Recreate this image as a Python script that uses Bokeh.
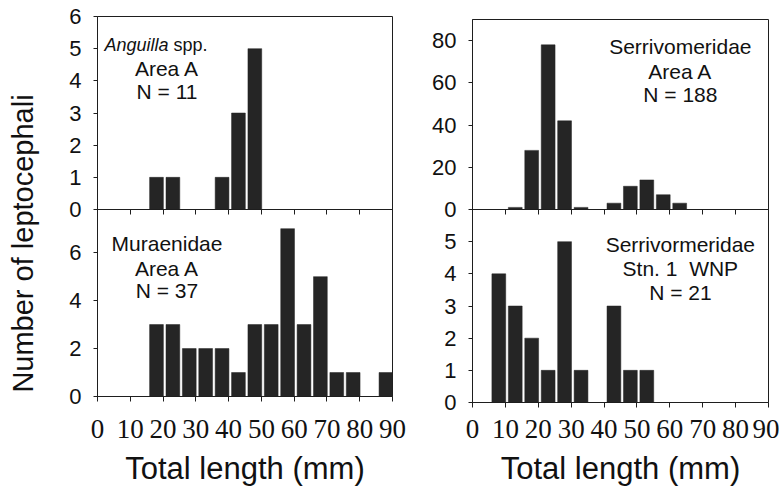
from bokeh.plotting import figure
from bokeh.layouts import row, column
from bokeh.models import Range1d, LinearAxis, FixedTicker, CustomJSTickFormatter
from bokeh.embed import file_html
from bokeh.resources import INLINE
from bokeh.core.properties import value
import math

# ---------------- data ----------------
x_ticks = [0, 10, 20, 30, 40, 50, 60, 70, 80, 90]

ang_len = [18, 23, 38, 43, 48]
ang_n = [1, 1, 1, 3, 5]

mur_len = [18, 23, 28, 33, 38, 43, 48, 53, 58, 63, 68, 73, 78, 83, 88]
mur_n = [3, 3, 2, 2, 2, 1, 3, 3, 7, 3, 5, 1, 1, 0, 1]

ser_len = [13, 18, 23, 28, 33, 38, 43, 48, 53, 58, 63]
ser_n = [1, 28, 78, 42, 1, 0, 3, 11, 14, 7, 3]

stn_len = [8, 13, 18, 23, 28, 33, 43, 48, 53]
stn_n = [4, 3, 2, 1, 5, 1, 3, 1, 1]

ticks_tl = [0, 1, 2, 3, 4, 5, 6]
ticks_bl = [0, 2, 4, 6]
ticks_tr = [0, 20, 40, 60, 80]
ticks_br = [0, 1, 2, 3, 4, 5]

x_title = "Total length (mm)"
y_title = "Number of leptocephali"

# ---------------- styling ----------------
FONT = "Liberation Sans"
NARROW = "Liberation Sans Narrow"
BAR = "#252525"
LINE = "#1e1e1e"
BAR_W = 4.2
OVER = 14  # extra room below the upper panels so their "0" label is whole


def style_common(p, yticks):
    p.grid.visible = False
    p.outline_line_color = LINE
    p.outline_line_width = 1
    p.background_fill_alpha = 0
    p.border_fill_alpha = 0
    ax = p.yaxis[0]
    ax.ticker = FixedTicker(ticks=yticks)
    ax.major_tick_in = 0
    ax.major_tick_out = 4
    ax.minor_tick_in = 0
    ax.minor_tick_out = 0
    ax.axis_line_color = LINE
    ax.major_tick_line_color = LINE
    ax.major_label_text_font = FONT
    ax.major_label_text_font_size = "22px"
    ax.major_label_text_color = "#111111"
    ax.major_label_standoff = 12


def make_top(xs, ys, yr, yticks, left):
    p = figure(frame_width=295 if left else 296, frame_height=193 if left else 190,
               x_range=Range1d(0, 90), y_range=Range1d(0, yr),
               x_axis_location=None, toolbar_location=None, output_backend="svg",
               min_border_left=39 if left else 52, min_border_right=28 if left else 11,
               min_border_top=16 if left else 19, min_border_bottom=OVER)
    style_common(p, yticks)
    p.vbar(x=xs, top=ys, width=BAR_W, fill_color=BAR, line_color=BAR, line_width=0.5)
    return p


def make_bottom(xs, ys, yr, yticks, left):
    p = figure(frame_width=295 if left else 296, frame_height=187 if left else 193,
               x_range=Range1d(0, 90), y_range=Range1d(0, yr),
               toolbar_location=None, output_backend="svg",
               min_border_left=39 if left else 52, min_border_right=28 if left else 11,
               min_border_top=0, min_border_bottom=93 if left else 87,
               margin=(-OVER, 0, 0, 0))
    style_common(p, yticks)
    p.vbar(x=xs, top=ys, width=BAR_W, fill_color=BAR, line_color=BAR, line_width=0.5)
    xa = p.xaxis[0]
    xa.ticker = FixedTicker(ticks=x_ticks)
    xa.major_tick_in = 0
    xa.major_tick_out = 5
    xa.minor_tick_in = 0
    xa.minor_tick_out = 0
    xa.axis_line_color = LINE
    xa.major_tick_line_color = LINE
    xa.major_label_text_font = NARROW
    xa.major_label_text_font_size = "27px"
    xa.major_label_text_color = "#111111"
    xa.major_label_standoff = 18 if left else 12
    xa.axis_label = x_title
    xa.axis_label_text_font = FONT
    xa.axis_label_text_font_size = "31px"
    xa.axis_label_text_font_style = "normal"
    xa.axis_label_text_color = "#111111"
    xa.axis_label_standoff = 10
    # ticks of the upper panel's baseline, pointing down into this panel
    up = LinearAxis(ticker=FixedTicker(ticks=x_ticks),
                    formatter=CustomJSTickFormatter(code="return ''"))
    up.major_tick_in = 5
    up.major_tick_out = 0
    up.minor_tick_in = 0
    up.minor_tick_out = 0
    up.major_label_text_font_size = "0px"
    up.major_label_standoff = 0
    up.axis_line_color = LINE
    up.major_tick_line_color = LINE
    p.add_layout(up, "above")
    return p


def add_texts(p, items, size="21px"):
    for (txt, x, y, align, style) in items:
        p.text(x=[x], y=[y], text=[txt], text_align=align, text_baseline="middle",
               text_font=value(FONT), text_font_size=size, text_font_style=style,
               text_color="#111111")


# ---------------- panels ----------------
tl = make_top(ang_len, ang_n, 6, ticks_tl, True)
add_texts(tl, [
    ("Anguilla", 2.1, 5.10, "left", "italic"),
    ("spp.", 23.2, 5.10, "left", "normal"),
], size="18px")
add_texts(tl, [
    ("Area A", 21.2, 4.38, "center", "normal"),
    ("N = 11", 21.2, 3.67, "center", "normal"),
])

bl = make_bottom(mur_len, mur_n, 7.8, ticks_bl, True)
add_texts(bl, [
    ("Muraenidae", 21.2, 6.37, "center", "normal"),
    ("Area A", 21.2, 5.33, "center", "normal"),
    ("N = 37", 21.2, 4.42, "center", "normal"),
])

tr = make_top(ser_len, ser_n, 90, ticks_tr, False)
add_texts(tr, [
    ("Serrivomeridae", 63.2, 77.0, "center", "normal"),
    ("Area A", 63.2, 65.5, "center", "normal"),
    ("N = 188", 63.2, 54.7, "center", "normal"),
])

br = make_bottom(stn_len, stn_n, 6, ticks_br, False)
add_texts(br, [
    ("Serrivormeridae", 63.2, 4.91, "center", "normal"),
    ("Stn. 1\u00a0 WNP", 63.2, 4.18, "center", "normal"),
    ("N = 21", 63.2, 3.43, "center", "normal"),
])

# ---------------- shared y title ----------------
H = 489
yl = figure(width=58, height=H, x_range=Range1d(0, 58), y_range=Range1d(0, H),
            toolbar_location=None, output_backend="svg",
            min_border=0, x_axis_location=None, y_axis_location=None)
yl.grid.visible = False
yl.outline_line_color = None
yl.border_fill_alpha = 0
yl.background_fill_alpha = 0
yl.text(x=[22], y=[H - 243], text=[y_title], angle=math.pi / 2,
        text_align="center", text_baseline="middle",
        text_font=value(FONT), text_font_size="29px", text_color="#111111")

layout = row(yl, column(tl, bl), column(tr, br))
open("out.html", "w").write(file_html(layout, INLINE))
